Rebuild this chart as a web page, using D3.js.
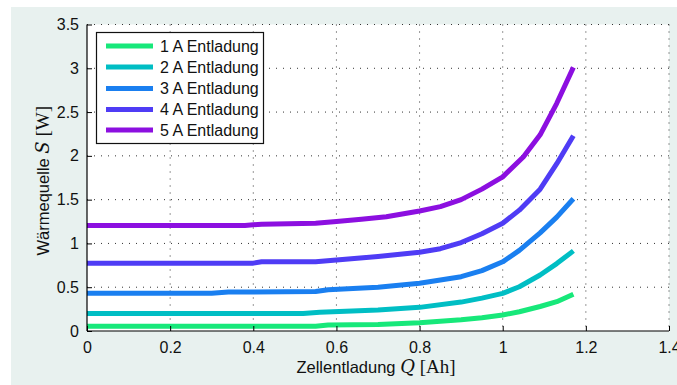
<!DOCTYPE html>
<html><head><meta charset="utf-8">
<script src="https://cdn.jsdelivr.net/npm/d3@7"></script>
<style>
body{margin:0;padding:0;background:#fff;}
svg{display:block;}
text{font-family:"Liberation Sans",Arial,sans-serif;}
</style></head><body>
<script>
const seriesNames = ["1 A Entladung","2 A Entladung","3 A Entladung","4 A Entladung","5 A Entladung"];
const seriesColors = ["#17e87a","#00bec4","#1a7ff0","#4f3cf5","#8c0fe0"];
const q1 = [0,0.55,0.58,0.7,0.8,0.9,0.95,1.0,1.04,1.09,1.13,1.17];
const s1 = [0.055,0.055,0.068,0.075,0.095,0.128,0.152,0.183,0.22,0.28,0.335,0.42];
const q2 = [0,0.52,0.56,0.7,0.8,0.9,0.95,1.0,1.04,1.09,1.13,1.17];
const s2 = [0.2,0.2,0.215,0.24,0.27,0.33,0.375,0.43,0.505,0.64,0.77,0.915];
const q3 = [0,0.3,0.34,0.55,0.58,0.7,0.8,0.9,0.95,1.0,1.04,1.09,1.13,1.17];
const s3 = [0.43,0.43,0.445,0.45,0.47,0.5,0.545,0.62,0.69,0.79,0.92,1.12,1.3,1.51];
const q4 = [0,0.4,0.42,0.55,0.6,0.7,0.8,0.85,0.9,0.95,1.0,1.04,1.09,1.13,1.17];
const s4 = [0.775,0.775,0.79,0.79,0.81,0.85,0.9,0.94,1.01,1.11,1.23,1.38,1.62,1.91,2.23];
const q5 = [0,0.38,0.42,0.55,0.6,0.66,0.72,0.8,0.85,0.9,0.95,1.0,1.05,1.09,1.13,1.17];
const s5 = [1.205,1.205,1.22,1.23,1.25,1.275,1.305,1.37,1.42,1.5,1.62,1.76,1.99,2.24,2.6,3.01];
const xTicks = [0,0.2,0.4,0.6,0.8,1,1.2,1.4];
const yTicks = [0,0.5,1,1.5,2,2.5,3,3.5];

const W=677,H=385;
const m={left:87,right:669,top:24.5,bottom:331};
const svg=d3.select("body").append("svg").attr("width",W).attr("height",H);
svg.append("rect").attr("x",11).attr("y",7).attr("width",W-11).attr("height",H-7).attr("fill","#e8f1ef");
svg.append("rect").attr("x",m.left).attr("y",m.top).attr("width",m.right-m.left).attr("height",m.bottom-m.top).attr("fill","#fff");

const x=d3.scaleLinear().domain([0,1.4]).range([m.left,m.right]);
const y=d3.scaleLinear().domain([0,3.5]).range([m.bottom,m.top]);

// grid
const g=svg.append("g");
xTicks.forEach(t=>{ if(t>0) g.append("line").attr("x1",x(t)).attr("x2",x(t)).attr("y1",m.top).attr("y2",m.bottom)
  .attr("stroke","#333").attr("stroke-width",1).attr("stroke-dasharray","1,6"); });
yTicks.forEach(t=>{ if(t>0) g.append("line").attr("x1",m.left).attr("x2",m.right).attr("y1",y(t)).attr("y2",y(t))
  .attr("stroke","#333").attr("stroke-width",1).attr("stroke-dasharray","1,6"); });

// lines
const qs=[q1,q2,q3,q4,q5], ss=[s1,s2,s3,s4,s5];
const line=d3.line().x(d=>x(d[0])).y(d=>y(d[1]));
qs.forEach((q,i)=>{
  const data=q.map((v,j)=>[v,ss[i][j]]);
  svg.append("path").datum(data).attr("d",line).attr("fill","none")
    .attr("stroke",seriesColors[i]).attr("stroke-width",5).attr("stroke-linejoin","round");
});

// axes
const xAxis=d3.axisBottom(x).tickValues(xTicks).tickSize(-5).tickPadding(11).tickFormat(d=>String(d));
const yAxis=d3.axisLeft(y).tickValues(yTicks).tickSize(-5).tickPadding(8).tickFormat(d=>String(d));
const gx=svg.append("g").attr("transform",`translate(0,${m.bottom})`).call(xAxis);
const gy=svg.append("g").attr("transform",`translate(${m.left},0)`).call(yAxis);
[gx,gy].forEach(a=>{
  a.select(".domain").attr("stroke","#000").attr("stroke-width",1.2);
  a.selectAll(".tick line").attr("stroke","#000");
  a.selectAll(".tick text").attr("font-size",16).attr("fill","#111").attr("font-family","Liberation Sans, Arial, sans-serif");
});
gy.select(".domain").attr("d",`M0,${m.bottom}V${m.top}`);
gx.select(".domain").attr("d",`M${m.left},0H${m.right}`);

// axis labels
const xl=svg.append("text").attr("x",(m.left+m.right)/2-2).attr("y",373).attr("text-anchor","middle").attr("font-size",16.5).attr("fill","#111");
xl.append("tspan").text("Zellentladung ");
xl.append("tspan").attr("font-family","DejaVu Serif, Liberation Serif, serif").attr("font-style","italic").attr("font-size",18).text("Q");
xl.append("tspan").attr("font-family","Liberation Serif, serif").attr("font-size",19).text(" [Ah]");

const yl=svg.append("text").attr("transform",`translate(49,${(m.top+m.bottom)/2+3}) rotate(-90)`).attr("text-anchor","middle").attr("font-size",16.5).attr("fill","#111");
yl.append("tspan").text("Wärmequelle ");
yl.append("tspan").attr("font-family","DejaVu Serif, Liberation Serif, serif").attr("font-style","italic").attr("font-size",18).text("S");
yl.append("tspan").attr("font-family","Liberation Serif, serif").attr("font-size",19).text(" [W]");

// legend
const lg=svg.append("g");
lg.append("rect").attr("x",96.5).attr("y",32.5).attr("width",167).attr("height",111).attr("fill","#fff").attr("stroke","#111").attr("stroke-width",1.2);
const ly=[46,67,88.5,109.5,130];
seriesNames.forEach((n,i)=>{
  lg.append("line").attr("x1",106).attr("x2",153).attr("y1",ly[i]).attr("y2",ly[i]).attr("stroke",seriesColors[i]).attr("stroke-width",5);
  lg.append("text").attr("x",160).attr("y",ly[i]+5.8).attr("font-size",16).attr("fill","#111").text(n);
});
</script>
</body></html>
